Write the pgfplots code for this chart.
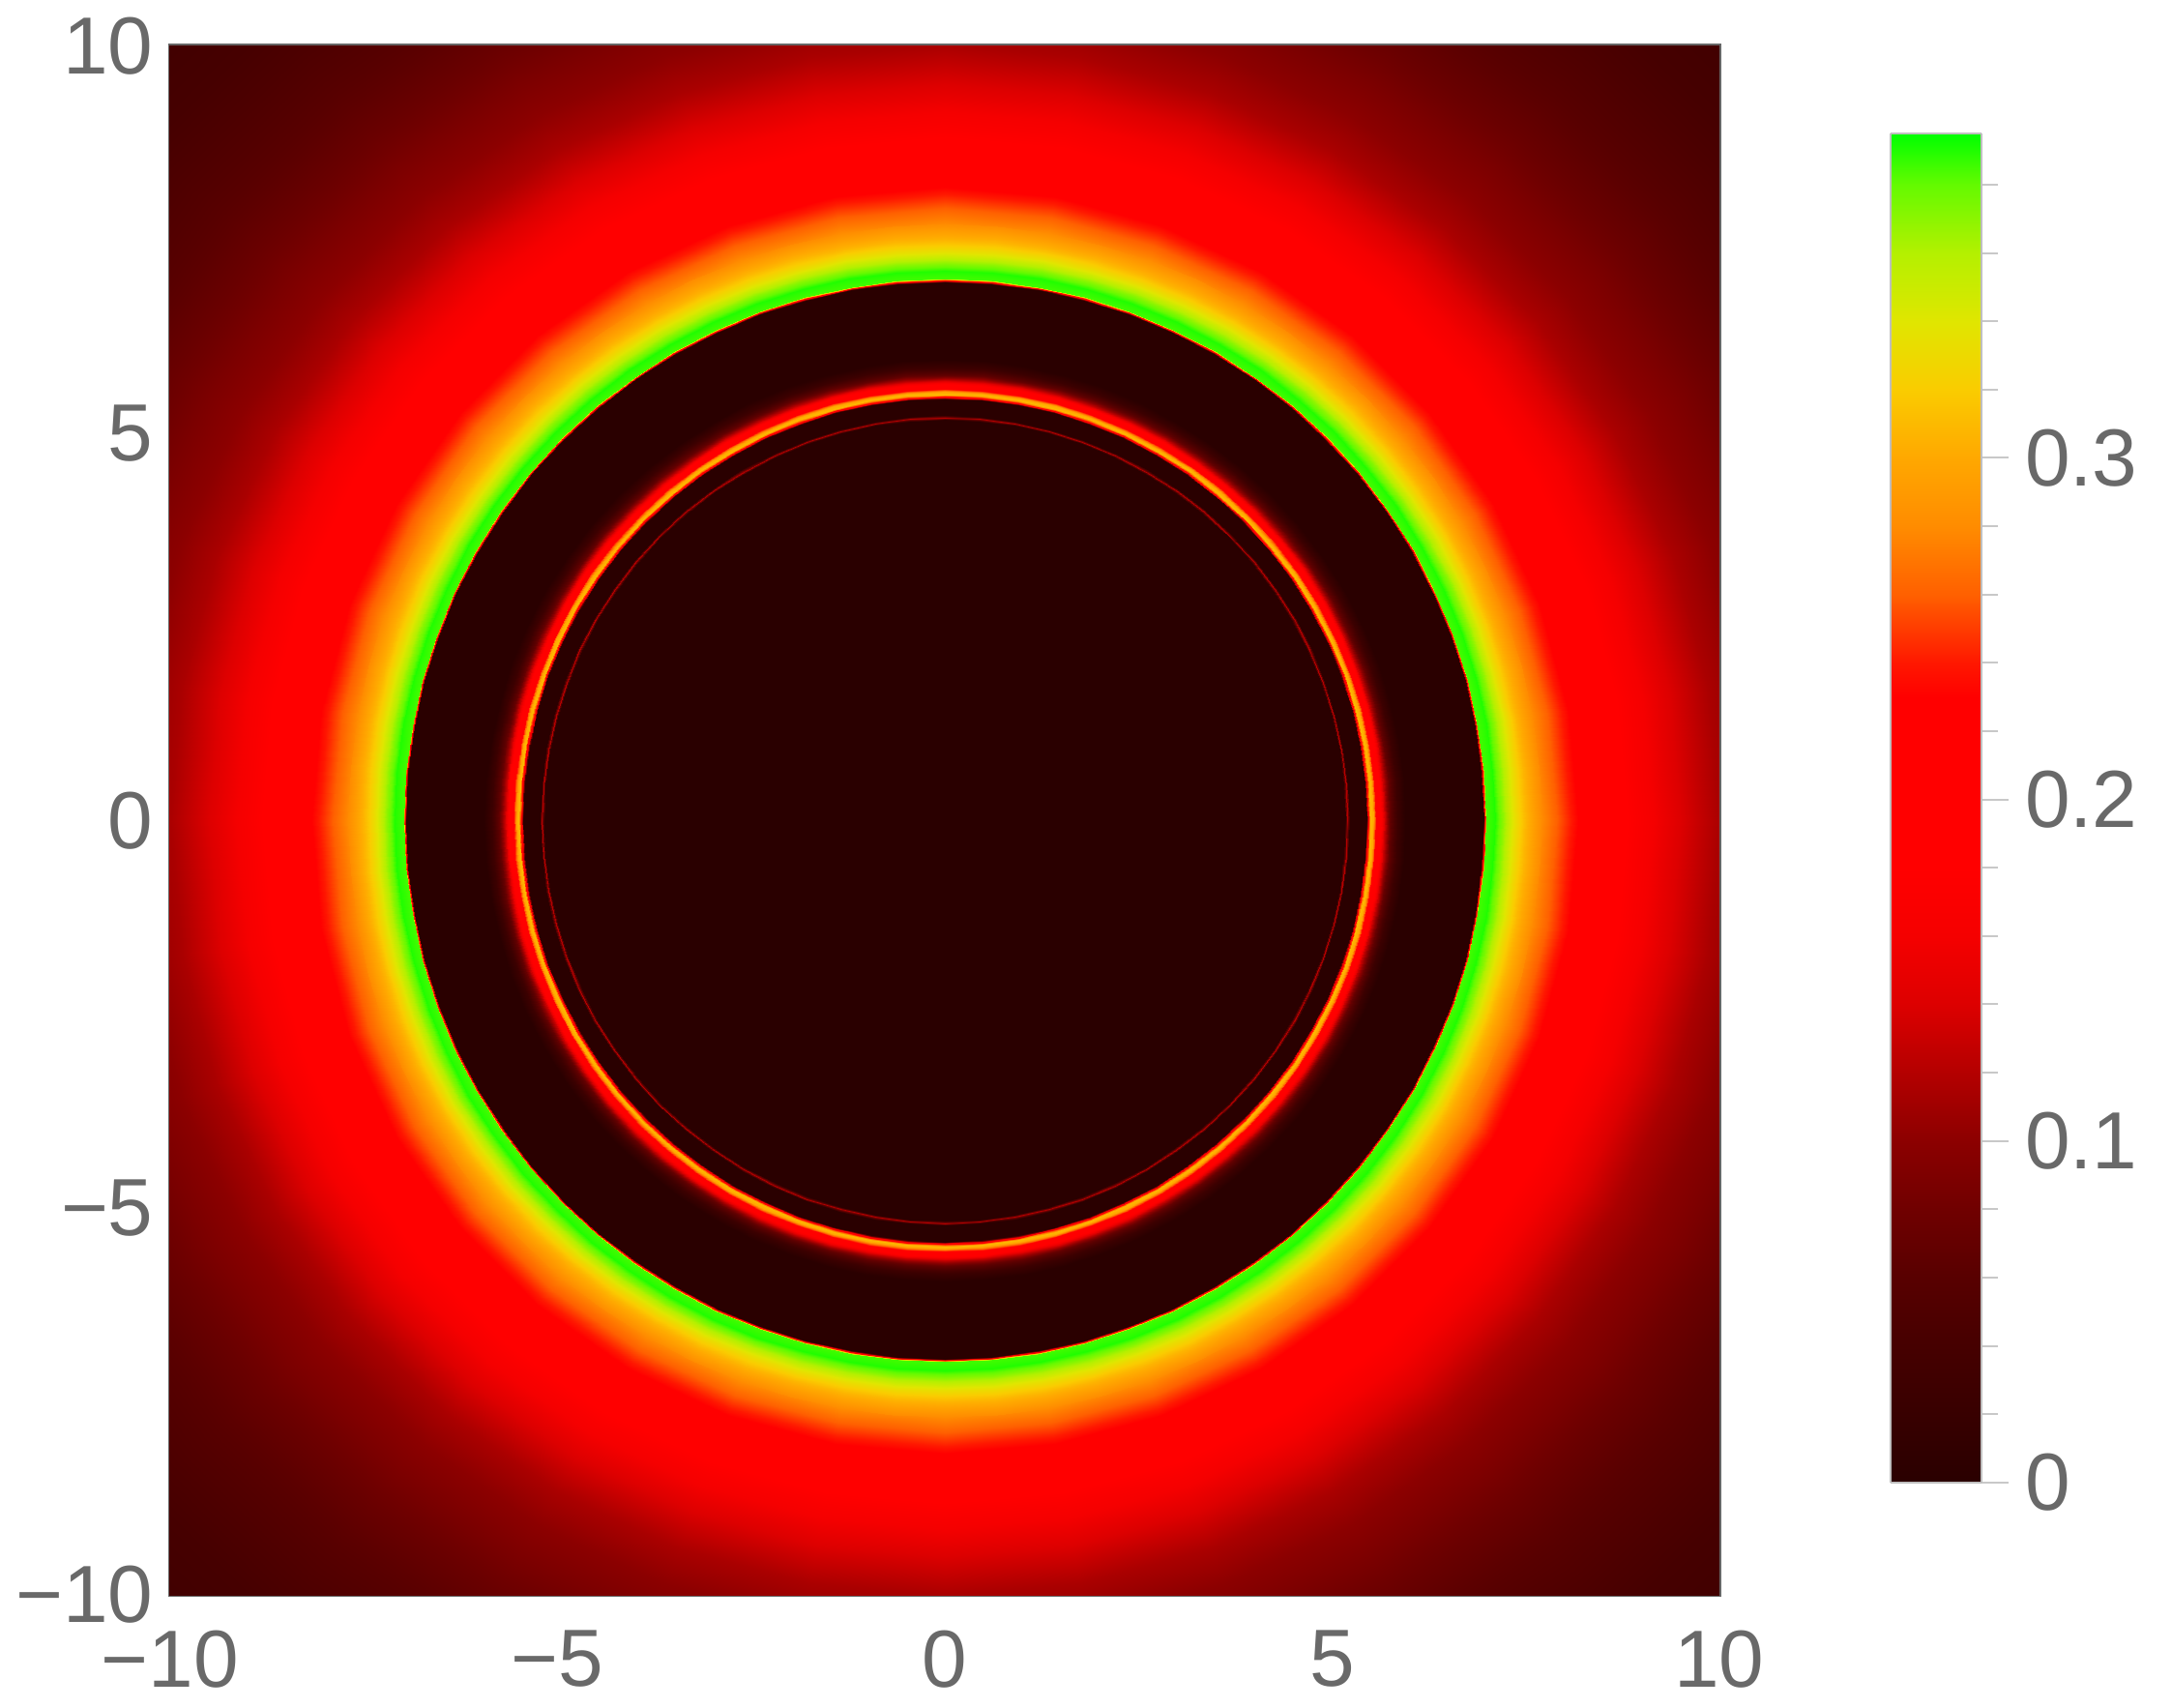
\documentclass[border=0pt]{standalone}
\usepackage{fontspec}
\setmainfont{Liberation Sans}
\usepackage{pgfplots}
\pgfplotsset{compat=1.18}
\definecolor{framegray}{RGB}{102,102,102}
\definecolor{labelgray}{RGB}{105,105,105}
\definecolor{cbtick}{RGB}{200,200,200}
\pgfplotsset{colormap={bh}{rgb255(0pt)=(42,0,0) rgb255(20pt)=(56,0,0) rgb255(40pt)=(70,0,0)
  rgb255(60pt)=(88,0,0) rgb255(80pt)=(112,0,0) rgb255(100pt)=(140,0,0) rgb255(120pt)=(180,0,0)
  rgb255(140pt)=(221,0,0) rgb255(160pt)=(245,0,0) rgb255(180pt)=(255,0,0) rgb255(230pt)=(255,0,0)
  rgb255(240pt)=(255,24,0) rgb255(260pt)=(255,96,0) rgb255(280pt)=(255,140,0) rgb255(300pt)=(255,168,0)
  rgb255(320pt)=(250,204,0) rgb255(340pt)=(224,230,0) rgb255(360pt)=(180,240,0) rgb255(380pt)=(100,250,0)
  rgb255(395pt)=(0,255,0)}}

\begin{document}
\begin{tikzpicture}
\begin{axis}[
  name=ax,
  scale only axis, width=325pt, height=325pt,
  xmin=-10, xmax=10, ymin=-10, ymax=10,
  xtick={-10,-5,0,5,10}, ytick={-10,-5,0,5,10},
  xticklabels={−10,−5,0,5,10}, yticklabels={−10,−5,0,5,10},
  axis line style={draw=framegray, line width=0.8pt},
  tick align=inside, major tick length=2pt,
  tick style={draw=framegray, line width=0.5pt},
  tick label style={font=\fontsize{17}{20}\selectfont, text=labelgray},
  xticklabel style={yshift=-4pt},
  colormap name=bh, point meta min=0, point meta max=0.395,
  colorbar, colorbar sampled={surf, mark=none, shader=interp},
  colorbar style={
    width=19pt, height=283pt, samples=80,
    at={(parent axis.east)}, anchor=west, xshift=27.4pt, yshift=2.6pt,
    ytick={0,0.1,0.2,0.3}, yticklabels={0,0.1,0.2,0.3},
    minor ytick={0.02,0.04,0.06,0.08,0.12,0.14,0.16,0.18,0.22,0.24,0.26,0.28,0.32,0.34,0.36,0.38},
    ytick pos=right, yticklabel pos=right, tick align=outside,
    major tick length=5.7pt, minor tick length=3.6pt,
    tick style={draw=cbtick, line width=0.4pt},
    axis line style={draw=gray!50, line width=0.4pt},
    yticklabel style={font=\fontsize{17}{20}\selectfont, text=labelgray},
  },
]
% outer halo, 10 degree steps
\addplot[surf, shader=interp, data cs=polar, mesh/cols=37, point meta=explicit]
  table[row sep=\\, x=ang, y=rad, meta=val]{
ang rad val\\
0 7.5 .307\\10 7.5 .307\\20 7.5 .307\\30 7.5 .307\\40 7.5 .307\\50 7.5 .307\\60 7.5 .307\\70 7.5 .307\\80 7.5 .307\\90 7.5 .307\\100 7.5 .307\\110 7.5 .307\\120 7.5 .307\\130 7.5 .307\\140 7.5 .307\\150 7.5 .307\\160 7.5 .307\\170 7.5 .307\\180 7.5 .307\\190 7.5 .307\\200 7.5 .307\\210 7.5 .307\\220 7.5 .307\\230 7.5 .307\\240 7.5 .307\\250 7.5 .307\\260 7.5 .307\\270 7.5 .307\\280 7.5 .307\\290 7.5 .307\\300 7.5 .307\\310 7.5 .307\\320 7.5 .307\\330 7.5 .307\\340 7.5 .307\\350 7.5 .307\\360 7.5 .307\\
0 7.7 .28\\10 7.7 .28\\20 7.7 .28\\30 7.7 .28\\40 7.7 .28\\50 7.7 .28\\60 7.7 .28\\70 7.7 .28\\80 7.7 .28\\90 7.7 .28\\100 7.7 .28\\110 7.7 .28\\120 7.7 .28\\130 7.7 .28\\140 7.7 .28\\150 7.7 .28\\160 7.7 .28\\170 7.7 .28\\180 7.7 .28\\190 7.7 .28\\200 7.7 .28\\210 7.7 .28\\220 7.7 .28\\230 7.7 .28\\240 7.7 .28\\250 7.7 .28\\260 7.7 .28\\270 7.7 .28\\280 7.7 .28\\290 7.7 .28\\300 7.7 .28\\310 7.7 .28\\320 7.7 .28\\330 7.7 .28\\340 7.7 .28\\350 7.7 .28\\360 7.7 .28\\
0 7.9 .26\\10 7.9 .26\\20 7.9 .26\\30 7.9 .26\\40 7.9 .26\\50 7.9 .26\\60 7.9 .26\\70 7.9 .26\\80 7.9 .26\\90 7.9 .26\\100 7.9 .26\\110 7.9 .26\\120 7.9 .26\\130 7.9 .26\\140 7.9 .26\\150 7.9 .26\\160 7.9 .26\\170 7.9 .26\\180 7.9 .26\\190 7.9 .26\\200 7.9 .26\\210 7.9 .26\\220 7.9 .26\\230 7.9 .26\\240 7.9 .26\\250 7.9 .26\\260 7.9 .26\\270 7.9 .26\\280 7.9 .26\\290 7.9 .26\\300 7.9 .26\\310 7.9 .26\\320 7.9 .26\\330 7.9 .26\\340 7.9 .26\\350 7.9 .26\\360 7.9 .26\\
0 8.1 .238\\10 8.1 .238\\20 8.1 .238\\30 8.1 .238\\40 8.1 .238\\50 8.1 .238\\60 8.1 .238\\70 8.1 .238\\80 8.1 .238\\90 8.1 .238\\100 8.1 .238\\110 8.1 .238\\120 8.1 .238\\130 8.1 .238\\140 8.1 .238\\150 8.1 .238\\160 8.1 .238\\170 8.1 .238\\180 8.1 .238\\190 8.1 .238\\200 8.1 .238\\210 8.1 .238\\220 8.1 .238\\230 8.1 .238\\240 8.1 .238\\250 8.1 .238\\260 8.1 .238\\270 8.1 .238\\280 8.1 .238\\290 8.1 .238\\300 8.1 .238\\310 8.1 .238\\320 8.1 .238\\330 8.1 .238\\340 8.1 .238\\350 8.1 .238\\360 8.1 .238\\
0 8.4 .205\\10 8.4 .205\\20 8.4 .205\\30 8.4 .205\\40 8.4 .205\\50 8.4 .205\\60 8.4 .205\\70 8.4 .205\\80 8.4 .205\\90 8.4 .205\\100 8.4 .205\\110 8.4 .205\\120 8.4 .205\\130 8.4 .205\\140 8.4 .205\\150 8.4 .205\\160 8.4 .205\\170 8.4 .205\\180 8.4 .205\\190 8.4 .205\\200 8.4 .205\\210 8.4 .205\\220 8.4 .205\\230 8.4 .205\\240 8.4 .205\\250 8.4 .205\\260 8.4 .205\\270 8.4 .205\\280 8.4 .205\\290 8.4 .205\\300 8.4 .205\\310 8.4 .205\\320 8.4 .205\\330 8.4 .205\\340 8.4 .205\\350 8.4 .205\\360 8.4 .205\\
0 8.7 .187\\10 8.7 .187\\20 8.7 .187\\30 8.7 .187\\40 8.7 .187\\50 8.7 .187\\60 8.7 .187\\70 8.7 .187\\80 8.7 .187\\90 8.7 .187\\100 8.7 .187\\110 8.7 .187\\120 8.7 .187\\130 8.7 .187\\140 8.7 .187\\150 8.7 .187\\160 8.7 .187\\170 8.7 .187\\180 8.7 .187\\190 8.7 .187\\200 8.7 .187\\210 8.7 .187\\220 8.7 .187\\230 8.7 .187\\240 8.7 .187\\250 8.7 .187\\260 8.7 .187\\270 8.7 .187\\280 8.7 .187\\290 8.7 .187\\300 8.7 .187\\310 8.7 .187\\320 8.7 .187\\330 8.7 .187\\340 8.7 .187\\350 8.7 .187\\360 8.7 .187\\
0 9 .168\\10 9 .168\\20 9 .168\\30 9 .168\\40 9 .168\\50 9 .168\\60 9 .168\\70 9 .168\\80 9 .168\\90 9 .168\\100 9 .168\\110 9 .168\\120 9 .168\\130 9 .168\\140 9 .168\\150 9 .168\\160 9 .168\\170 9 .168\\180 9 .168\\190 9 .168\\200 9 .168\\210 9 .168\\220 9 .168\\230 9 .168\\240 9 .168\\250 9 .168\\260 9 .168\\270 9 .168\\280 9 .168\\290 9 .168\\300 9 .168\\310 9 .168\\320 9 .168\\330 9 .168\\340 9 .168\\350 9 .168\\360 9 .168\\
0 9.5 .14\\10 9.5 .14\\20 9.5 .14\\30 9.5 .14\\40 9.5 .14\\50 9.5 .14\\60 9.5 .14\\70 9.5 .14\\80 9.5 .14\\90 9.5 .14\\100 9.5 .14\\110 9.5 .14\\120 9.5 .14\\130 9.5 .14\\140 9.5 .14\\150 9.5 .14\\160 9.5 .14\\170 9.5 .14\\180 9.5 .14\\190 9.5 .14\\200 9.5 .14\\210 9.5 .14\\220 9.5 .14\\230 9.5 .14\\240 9.5 .14\\250 9.5 .14\\260 9.5 .14\\270 9.5 .14\\280 9.5 .14\\290 9.5 .14\\300 9.5 .14\\310 9.5 .14\\320 9.5 .14\\330 9.5 .14\\340 9.5 .14\\350 9.5 .14\\360 9.5 .14\\
0 10 .115\\10 10 .115\\20 10 .115\\30 10 .115\\40 10 .115\\50 10 .115\\60 10 .115\\70 10 .115\\80 10 .115\\90 10 .115\\100 10 .115\\110 10 .115\\120 10 .115\\130 10 .115\\140 10 .115\\150 10 .115\\160 10 .115\\170 10 .115\\180 10 .115\\190 10 .115\\200 10 .115\\210 10 .115\\220 10 .115\\230 10 .115\\240 10 .115\\250 10 .115\\260 10 .115\\270 10 .115\\280 10 .115\\290 10 .115\\300 10 .115\\310 10 .115\\320 10 .115\\330 10 .115\\340 10 .115\\350 10 .115\\360 10 .115\\
0 10.5 .1\\10 10.5 .1\\20 10.5 .1\\30 10.5 .1\\40 10.5 .1\\50 10.5 .1\\60 10.5 .1\\70 10.5 .1\\80 10.5 .1\\90 10.5 .1\\100 10.5 .1\\110 10.5 .1\\120 10.5 .1\\130 10.5 .1\\140 10.5 .1\\150 10.5 .1\\160 10.5 .1\\170 10.5 .1\\180 10.5 .1\\190 10.5 .1\\200 10.5 .1\\210 10.5 .1\\220 10.5 .1\\230 10.5 .1\\240 10.5 .1\\250 10.5 .1\\260 10.5 .1\\270 10.5 .1\\280 10.5 .1\\290 10.5 .1\\300 10.5 .1\\310 10.5 .1\\320 10.5 .1\\330 10.5 .1\\340 10.5 .1\\350 10.5 .1\\360 10.5 .1\\
0 11 .088\\10 11 .088\\20 11 .088\\30 11 .088\\40 11 .088\\50 11 .088\\60 11 .088\\70 11 .088\\80 11 .088\\90 11 .088\\100 11 .088\\110 11 .088\\120 11 .088\\130 11 .088\\140 11 .088\\150 11 .088\\160 11 .088\\170 11 .088\\180 11 .088\\190 11 .088\\200 11 .088\\210 11 .088\\220 11 .088\\230 11 .088\\240 11 .088\\250 11 .088\\260 11 .088\\270 11 .088\\280 11 .088\\290 11 .088\\300 11 .088\\310 11 .088\\320 11 .088\\330 11 .088\\340 11 .088\\350 11 .088\\360 11 .088\\
0 11.5 .075\\10 11.5 .075\\20 11.5 .075\\30 11.5 .075\\40 11.5 .075\\50 11.5 .075\\60 11.5 .075\\70 11.5 .075\\80 11.5 .075\\90 11.5 .075\\100 11.5 .075\\110 11.5 .075\\120 11.5 .075\\130 11.5 .075\\140 11.5 .075\\150 11.5 .075\\160 11.5 .075\\170 11.5 .075\\180 11.5 .075\\190 11.5 .075\\200 11.5 .075\\210 11.5 .075\\220 11.5 .075\\230 11.5 .075\\240 11.5 .075\\250 11.5 .075\\260 11.5 .075\\270 11.5 .075\\280 11.5 .075\\290 11.5 .075\\300 11.5 .075\\310 11.5 .075\\320 11.5 .075\\330 11.5 .075\\340 11.5 .075\\350 11.5 .075\\360 11.5 .075\\
0 12 .064\\10 12 .064\\20 12 .064\\30 12 .064\\40 12 .064\\50 12 .064\\60 12 .064\\70 12 .064\\80 12 .064\\90 12 .064\\100 12 .064\\110 12 .064\\120 12 .064\\130 12 .064\\140 12 .064\\150 12 .064\\160 12 .064\\170 12 .064\\180 12 .064\\190 12 .064\\200 12 .064\\210 12 .064\\220 12 .064\\230 12 .064\\240 12 .064\\250 12 .064\\260 12 .064\\270 12 .064\\280 12 .064\\290 12 .064\\300 12 .064\\310 12 .064\\320 12 .064\\330 12 .064\\340 12 .064\\350 12 .064\\360 12 .064\\
0 12.5 .055\\10 12.5 .055\\20 12.5 .055\\30 12.5 .055\\40 12.5 .055\\50 12.5 .055\\60 12.5 .055\\70 12.5 .055\\80 12.5 .055\\90 12.5 .055\\100 12.5 .055\\110 12.5 .055\\120 12.5 .055\\130 12.5 .055\\140 12.5 .055\\150 12.5 .055\\160 12.5 .055\\170 12.5 .055\\180 12.5 .055\\190 12.5 .055\\200 12.5 .055\\210 12.5 .055\\220 12.5 .055\\230 12.5 .055\\240 12.5 .055\\250 12.5 .055\\260 12.5 .055\\270 12.5 .055\\280 12.5 .055\\290 12.5 .055\\300 12.5 .055\\310 12.5 .055\\320 12.5 .055\\330 12.5 .055\\340 12.5 .055\\350 12.5 .055\\360 12.5 .055\\
0 13 .047\\10 13 .047\\20 13 .047\\30 13 .047\\40 13 .047\\50 13 .047\\60 13 .047\\70 13 .047\\80 13 .047\\90 13 .047\\100 13 .047\\110 13 .047\\120 13 .047\\130 13 .047\\140 13 .047\\150 13 .047\\160 13 .047\\170 13 .047\\180 13 .047\\190 13 .047\\200 13 .047\\210 13 .047\\220 13 .047\\230 13 .047\\240 13 .047\\250 13 .047\\260 13 .047\\270 13 .047\\280 13 .047\\290 13 .047\\300 13 .047\\310 13 .047\\320 13 .047\\330 13 .047\\340 13 .047\\350 13 .047\\360 13 .047\\
0 13.5 .04\\10 13.5 .04\\20 13.5 .04\\30 13.5 .04\\40 13.5 .04\\50 13.5 .04\\60 13.5 .04\\70 13.5 .04\\80 13.5 .04\\90 13.5 .04\\100 13.5 .04\\110 13.5 .04\\120 13.5 .04\\130 13.5 .04\\140 13.5 .04\\150 13.5 .04\\160 13.5 .04\\170 13.5 .04\\180 13.5 .04\\190 13.5 .04\\200 13.5 .04\\210 13.5 .04\\220 13.5 .04\\230 13.5 .04\\240 13.5 .04\\250 13.5 .04\\260 13.5 .04\\270 13.5 .04\\280 13.5 .04\\290 13.5 .04\\300 13.5 .04\\310 13.5 .04\\320 13.5 .04\\330 13.5 .04\\340 13.5 .04\\350 13.5 .04\\360 13.5 .04\\
0 14.3 .033\\10 14.3 .033\\20 14.3 .033\\30 14.3 .033\\40 14.3 .033\\50 14.3 .033\\60 14.3 .033\\70 14.3 .033\\80 14.3 .033\\90 14.3 .033\\100 14.3 .033\\110 14.3 .033\\120 14.3 .033\\130 14.3 .033\\140 14.3 .033\\150 14.3 .033\\160 14.3 .033\\170 14.3 .033\\180 14.3 .033\\190 14.3 .033\\200 14.3 .033\\210 14.3 .033\\220 14.3 .033\\230 14.3 .033\\240 14.3 .033\\250 14.3 .033\\260 14.3 .033\\270 14.3 .033\\280 14.3 .033\\290 14.3 .033\\300 14.3 .033\\310 14.3 .033\\320 14.3 .033\\330 14.3 .033\\340 14.3 .033\\350 14.3 .033\\360 14.3 .033\\
};
% shadow, photon rings and sharp edge, 5 degree steps
\addplot[surf, shader=interp, data cs=polar, mesh/cols=73, point meta=explicit]
  table[row sep=\\, x=ang, y=rad, meta=val]{
ang rad val\\
0 0 0\\5 0 0\\10 0 0\\15 0 0\\20 0 0\\25 0 0\\30 0 0\\35 0 0\\40 0 0\\45 0 0\\50 0 0\\55 0 0\\60 0 0\\65 0 0\\70 0 0\\75 0 0\\80 0 0\\85 0 0\\90 0 0\\95 0 0\\100 0 0\\105 0 0\\110 0 0\\115 0 0\\120 0 0\\125 0 0\\130 0 0\\135 0 0\\140 0 0\\145 0 0\\150 0 0\\155 0 0\\160 0 0\\165 0 0\\170 0 0\\175 0 0\\180 0 0\\185 0 0\\190 0 0\\195 0 0\\200 0 0\\205 0 0\\210 0 0\\215 0 0\\220 0 0\\225 0 0\\230 0 0\\235 0 0\\240 0 0\\245 0 0\\250 0 0\\255 0 0\\260 0 0\\265 0 0\\270 0 0\\275 0 0\\280 0 0\\285 0 0\\290 0 0\\295 0 0\\300 0 0\\305 0 0\\310 0 0\\315 0 0\\320 0 0\\325 0 0\\330 0 0\\335 0 0\\340 0 0\\345 0 0\\350 0 0\\355 0 0\\360 0 0\\
0 5.17 0\\5 5.17 0\\10 5.17 0\\15 5.17 0\\20 5.17 0\\25 5.17 0\\30 5.17 0\\35 5.17 0\\40 5.17 0\\45 5.17 0\\50 5.17 0\\55 5.17 0\\60 5.17 0\\65 5.17 0\\70 5.17 0\\75 5.17 0\\80 5.17 0\\85 5.17 0\\90 5.17 0\\95 5.17 0\\100 5.17 0\\105 5.17 0\\110 5.17 0\\115 5.17 0\\120 5.17 0\\125 5.17 0\\130 5.17 0\\135 5.17 0\\140 5.17 0\\145 5.17 0\\150 5.17 0\\155 5.17 0\\160 5.17 0\\165 5.17 0\\170 5.17 0\\175 5.17 0\\180 5.17 0\\185 5.17 0\\190 5.17 0\\195 5.17 0\\200 5.17 0\\205 5.17 0\\210 5.17 0\\215 5.17 0\\220 5.17 0\\225 5.17 0\\230 5.17 0\\235 5.17 0\\240 5.17 0\\245 5.17 0\\250 5.17 0\\255 5.17 0\\260 5.17 0\\265 5.17 0\\270 5.17 0\\275 5.17 0\\280 5.17 0\\285 5.17 0\\290 5.17 0\\295 5.17 0\\300 5.17 0\\305 5.17 0\\310 5.17 0\\315 5.17 0\\320 5.17 0\\325 5.17 0\\330 5.17 0\\335 5.17 0\\340 5.17 0\\345 5.17 0\\350 5.17 0\\355 5.17 0\\360 5.17 0\\
0 5.2 .12\\5 5.2 .12\\10 5.2 .12\\15 5.2 .12\\20 5.2 .12\\25 5.2 .12\\30 5.2 .12\\35 5.2 .12\\40 5.2 .12\\45 5.2 .12\\50 5.2 .12\\55 5.2 .12\\60 5.2 .12\\65 5.2 .12\\70 5.2 .12\\75 5.2 .12\\80 5.2 .12\\85 5.2 .12\\90 5.2 .12\\95 5.2 .12\\100 5.2 .12\\105 5.2 .12\\110 5.2 .12\\115 5.2 .12\\120 5.2 .12\\125 5.2 .12\\130 5.2 .12\\135 5.2 .12\\140 5.2 .12\\145 5.2 .12\\150 5.2 .12\\155 5.2 .12\\160 5.2 .12\\165 5.2 .12\\170 5.2 .12\\175 5.2 .12\\180 5.2 .12\\185 5.2 .12\\190 5.2 .12\\195 5.2 .12\\200 5.2 .12\\205 5.2 .12\\210 5.2 .12\\215 5.2 .12\\220 5.2 .12\\225 5.2 .12\\230 5.2 .12\\235 5.2 .12\\240 5.2 .12\\245 5.2 .12\\250 5.2 .12\\255 5.2 .12\\260 5.2 .12\\265 5.2 .12\\270 5.2 .12\\275 5.2 .12\\280 5.2 .12\\285 5.2 .12\\290 5.2 .12\\295 5.2 .12\\300 5.2 .12\\305 5.2 .12\\310 5.2 .12\\315 5.2 .12\\320 5.2 .12\\325 5.2 .12\\330 5.2 .12\\335 5.2 .12\\340 5.2 .12\\345 5.2 .12\\350 5.2 .12\\355 5.2 .12\\360 5.2 .12\\
0 5.23 0\\5 5.23 0\\10 5.23 0\\15 5.23 0\\20 5.23 0\\25 5.23 0\\30 5.23 0\\35 5.23 0\\40 5.23 0\\45 5.23 0\\50 5.23 0\\55 5.23 0\\60 5.23 0\\65 5.23 0\\70 5.23 0\\75 5.23 0\\80 5.23 0\\85 5.23 0\\90 5.23 0\\95 5.23 0\\100 5.23 0\\105 5.23 0\\110 5.23 0\\115 5.23 0\\120 5.23 0\\125 5.23 0\\130 5.23 0\\135 5.23 0\\140 5.23 0\\145 5.23 0\\150 5.23 0\\155 5.23 0\\160 5.23 0\\165 5.23 0\\170 5.23 0\\175 5.23 0\\180 5.23 0\\185 5.23 0\\190 5.23 0\\195 5.23 0\\200 5.23 0\\205 5.23 0\\210 5.23 0\\215 5.23 0\\220 5.23 0\\225 5.23 0\\230 5.23 0\\235 5.23 0\\240 5.23 0\\245 5.23 0\\250 5.23 0\\255 5.23 0\\260 5.23 0\\265 5.23 0\\270 5.23 0\\275 5.23 0\\280 5.23 0\\285 5.23 0\\290 5.23 0\\295 5.23 0\\300 5.23 0\\305 5.23 0\\310 5.23 0\\315 5.23 0\\320 5.23 0\\325 5.23 0\\330 5.23 0\\335 5.23 0\\340 5.23 0\\345 5.23 0\\350 5.23 0\\355 5.23 0\\360 5.23 0\\
0 5.44 0\\5 5.44 0\\10 5.44 0\\15 5.44 0\\20 5.44 0\\25 5.44 0\\30 5.44 0\\35 5.44 0\\40 5.44 0\\45 5.44 0\\50 5.44 0\\55 5.44 0\\60 5.44 0\\65 5.44 0\\70 5.44 0\\75 5.44 0\\80 5.44 0\\85 5.44 0\\90 5.44 0\\95 5.44 0\\100 5.44 0\\105 5.44 0\\110 5.44 0\\115 5.44 0\\120 5.44 0\\125 5.44 0\\130 5.44 0\\135 5.44 0\\140 5.44 0\\145 5.44 0\\150 5.44 0\\155 5.44 0\\160 5.44 0\\165 5.44 0\\170 5.44 0\\175 5.44 0\\180 5.44 0\\185 5.44 0\\190 5.44 0\\195 5.44 0\\200 5.44 0\\205 5.44 0\\210 5.44 0\\215 5.44 0\\220 5.44 0\\225 5.44 0\\230 5.44 0\\235 5.44 0\\240 5.44 0\\245 5.44 0\\250 5.44 0\\255 5.44 0\\260 5.44 0\\265 5.44 0\\270 5.44 0\\275 5.44 0\\280 5.44 0\\285 5.44 0\\290 5.44 0\\295 5.44 0\\300 5.44 0\\305 5.44 0\\310 5.44 0\\315 5.44 0\\320 5.44 0\\325 5.44 0\\330 5.44 0\\335 5.44 0\\340 5.44 0\\345 5.44 0\\350 5.44 0\\355 5.44 0\\360 5.44 0\\
0 5.47 .22\\5 5.47 .22\\10 5.47 .22\\15 5.47 .22\\20 5.47 .22\\25 5.47 .22\\30 5.47 .22\\35 5.47 .22\\40 5.47 .22\\45 5.47 .22\\50 5.47 .22\\55 5.47 .22\\60 5.47 .22\\65 5.47 .22\\70 5.47 .22\\75 5.47 .22\\80 5.47 .22\\85 5.47 .22\\90 5.47 .22\\95 5.47 .22\\100 5.47 .22\\105 5.47 .22\\110 5.47 .22\\115 5.47 .22\\120 5.47 .22\\125 5.47 .22\\130 5.47 .22\\135 5.47 .22\\140 5.47 .22\\145 5.47 .22\\150 5.47 .22\\155 5.47 .22\\160 5.47 .22\\165 5.47 .22\\170 5.47 .22\\175 5.47 .22\\180 5.47 .22\\185 5.47 .22\\190 5.47 .22\\195 5.47 .22\\200 5.47 .22\\205 5.47 .22\\210 5.47 .22\\215 5.47 .22\\220 5.47 .22\\225 5.47 .22\\230 5.47 .22\\235 5.47 .22\\240 5.47 .22\\245 5.47 .22\\250 5.47 .22\\255 5.47 .22\\260 5.47 .22\\265 5.47 .22\\270 5.47 .22\\275 5.47 .22\\280 5.47 .22\\285 5.47 .22\\290 5.47 .22\\295 5.47 .22\\300 5.47 .22\\305 5.47 .22\\310 5.47 .22\\315 5.47 .22\\320 5.47 .22\\325 5.47 .22\\330 5.47 .22\\335 5.47 .22\\340 5.47 .22\\345 5.47 .22\\350 5.47 .22\\355 5.47 .22\\360 5.47 .22\\
0 5.5 .31\\5 5.5 .31\\10 5.5 .31\\15 5.5 .31\\20 5.5 .31\\25 5.5 .31\\30 5.5 .31\\35 5.5 .31\\40 5.5 .31\\45 5.5 .31\\50 5.5 .31\\55 5.5 .31\\60 5.5 .31\\65 5.5 .31\\70 5.5 .31\\75 5.5 .31\\80 5.5 .31\\85 5.5 .31\\90 5.5 .31\\95 5.5 .31\\100 5.5 .31\\105 5.5 .31\\110 5.5 .31\\115 5.5 .31\\120 5.5 .31\\125 5.5 .31\\130 5.5 .31\\135 5.5 .31\\140 5.5 .31\\145 5.5 .31\\150 5.5 .31\\155 5.5 .31\\160 5.5 .31\\165 5.5 .31\\170 5.5 .31\\175 5.5 .31\\180 5.5 .31\\185 5.5 .31\\190 5.5 .31\\195 5.5 .31\\200 5.5 .31\\205 5.5 .31\\210 5.5 .31\\215 5.5 .31\\220 5.5 .31\\225 5.5 .31\\230 5.5 .31\\235 5.5 .31\\240 5.5 .31\\245 5.5 .31\\250 5.5 .31\\255 5.5 .31\\260 5.5 .31\\265 5.5 .31\\270 5.5 .31\\275 5.5 .31\\280 5.5 .31\\285 5.5 .31\\290 5.5 .31\\295 5.5 .31\\300 5.5 .31\\305 5.5 .31\\310 5.5 .31\\315 5.5 .31\\320 5.5 .31\\325 5.5 .31\\330 5.5 .31\\335 5.5 .31\\340 5.5 .31\\345 5.5 .31\\350 5.5 .31\\355 5.5 .31\\360 5.5 .31\\
0 5.53 .3\\5 5.53 .3\\10 5.53 .3\\15 5.53 .3\\20 5.53 .3\\25 5.53 .3\\30 5.53 .3\\35 5.53 .3\\40 5.53 .3\\45 5.53 .3\\50 5.53 .3\\55 5.53 .3\\60 5.53 .3\\65 5.53 .3\\70 5.53 .3\\75 5.53 .3\\80 5.53 .3\\85 5.53 .3\\90 5.53 .3\\95 5.53 .3\\100 5.53 .3\\105 5.53 .3\\110 5.53 .3\\115 5.53 .3\\120 5.53 .3\\125 5.53 .3\\130 5.53 .3\\135 5.53 .3\\140 5.53 .3\\145 5.53 .3\\150 5.53 .3\\155 5.53 .3\\160 5.53 .3\\165 5.53 .3\\170 5.53 .3\\175 5.53 .3\\180 5.53 .3\\185 5.53 .3\\190 5.53 .3\\195 5.53 .3\\200 5.53 .3\\205 5.53 .3\\210 5.53 .3\\215 5.53 .3\\220 5.53 .3\\225 5.53 .3\\230 5.53 .3\\235 5.53 .3\\240 5.53 .3\\245 5.53 .3\\250 5.53 .3\\255 5.53 .3\\260 5.53 .3\\265 5.53 .3\\270 5.53 .3\\275 5.53 .3\\280 5.53 .3\\285 5.53 .3\\290 5.53 .3\\295 5.53 .3\\300 5.53 .3\\305 5.53 .3\\310 5.53 .3\\315 5.53 .3\\320 5.53 .3\\325 5.53 .3\\330 5.53 .3\\335 5.53 .3\\340 5.53 .3\\345 5.53 .3\\350 5.53 .3\\355 5.53 .3\\360 5.53 .3\\
0 5.57 .23\\5 5.57 .23\\10 5.57 .23\\15 5.57 .23\\20 5.57 .23\\25 5.57 .23\\30 5.57 .23\\35 5.57 .23\\40 5.57 .23\\45 5.57 .23\\50 5.57 .23\\55 5.57 .23\\60 5.57 .23\\65 5.57 .23\\70 5.57 .23\\75 5.57 .23\\80 5.57 .23\\85 5.57 .23\\90 5.57 .23\\95 5.57 .23\\100 5.57 .23\\105 5.57 .23\\110 5.57 .23\\115 5.57 .23\\120 5.57 .23\\125 5.57 .23\\130 5.57 .23\\135 5.57 .23\\140 5.57 .23\\145 5.57 .23\\150 5.57 .23\\155 5.57 .23\\160 5.57 .23\\165 5.57 .23\\170 5.57 .23\\175 5.57 .23\\180 5.57 .23\\185 5.57 .23\\190 5.57 .23\\195 5.57 .23\\200 5.57 .23\\205 5.57 .23\\210 5.57 .23\\215 5.57 .23\\220 5.57 .23\\225 5.57 .23\\230 5.57 .23\\235 5.57 .23\\240 5.57 .23\\245 5.57 .23\\250 5.57 .23\\255 5.57 .23\\260 5.57 .23\\265 5.57 .23\\270 5.57 .23\\275 5.57 .23\\280 5.57 .23\\285 5.57 .23\\290 5.57 .23\\295 5.57 .23\\300 5.57 .23\\305 5.57 .23\\310 5.57 .23\\315 5.57 .23\\320 5.57 .23\\325 5.57 .23\\330 5.57 .23\\335 5.57 .23\\340 5.57 .23\\345 5.57 .23\\350 5.57 .23\\355 5.57 .23\\360 5.57 .23\\
0 5.62 .19\\5 5.62 .19\\10 5.62 .19\\15 5.62 .19\\20 5.62 .19\\25 5.62 .19\\30 5.62 .19\\35 5.62 .19\\40 5.62 .19\\45 5.62 .19\\50 5.62 .19\\55 5.62 .19\\60 5.62 .19\\65 5.62 .19\\70 5.62 .19\\75 5.62 .19\\80 5.62 .19\\85 5.62 .19\\90 5.62 .19\\95 5.62 .19\\100 5.62 .19\\105 5.62 .19\\110 5.62 .19\\115 5.62 .19\\120 5.62 .19\\125 5.62 .19\\130 5.62 .19\\135 5.62 .19\\140 5.62 .19\\145 5.62 .19\\150 5.62 .19\\155 5.62 .19\\160 5.62 .19\\165 5.62 .19\\170 5.62 .19\\175 5.62 .19\\180 5.62 .19\\185 5.62 .19\\190 5.62 .19\\195 5.62 .19\\200 5.62 .19\\205 5.62 .19\\210 5.62 .19\\215 5.62 .19\\220 5.62 .19\\225 5.62 .19\\230 5.62 .19\\235 5.62 .19\\240 5.62 .19\\245 5.62 .19\\250 5.62 .19\\255 5.62 .19\\260 5.62 .19\\265 5.62 .19\\270 5.62 .19\\275 5.62 .19\\280 5.62 .19\\285 5.62 .19\\290 5.62 .19\\295 5.62 .19\\300 5.62 .19\\305 5.62 .19\\310 5.62 .19\\315 5.62 .19\\320 5.62 .19\\325 5.62 .19\\330 5.62 .19\\335 5.62 .19\\340 5.62 .19\\345 5.62 .19\\350 5.62 .19\\355 5.62 .19\\360 5.62 .19\\
0 5.68 .13\\5 5.68 .13\\10 5.68 .13\\15 5.68 .13\\20 5.68 .13\\25 5.68 .13\\30 5.68 .13\\35 5.68 .13\\40 5.68 .13\\45 5.68 .13\\50 5.68 .13\\55 5.68 .13\\60 5.68 .13\\65 5.68 .13\\70 5.68 .13\\75 5.68 .13\\80 5.68 .13\\85 5.68 .13\\90 5.68 .13\\95 5.68 .13\\100 5.68 .13\\105 5.68 .13\\110 5.68 .13\\115 5.68 .13\\120 5.68 .13\\125 5.68 .13\\130 5.68 .13\\135 5.68 .13\\140 5.68 .13\\145 5.68 .13\\150 5.68 .13\\155 5.68 .13\\160 5.68 .13\\165 5.68 .13\\170 5.68 .13\\175 5.68 .13\\180 5.68 .13\\185 5.68 .13\\190 5.68 .13\\195 5.68 .13\\200 5.68 .13\\205 5.68 .13\\210 5.68 .13\\215 5.68 .13\\220 5.68 .13\\225 5.68 .13\\230 5.68 .13\\235 5.68 .13\\240 5.68 .13\\245 5.68 .13\\250 5.68 .13\\255 5.68 .13\\260 5.68 .13\\265 5.68 .13\\270 5.68 .13\\275 5.68 .13\\280 5.68 .13\\285 5.68 .13\\290 5.68 .13\\295 5.68 .13\\300 5.68 .13\\305 5.68 .13\\310 5.68 .13\\315 5.68 .13\\320 5.68 .13\\325 5.68 .13\\330 5.68 .13\\335 5.68 .13\\340 5.68 .13\\345 5.68 .13\\350 5.68 .13\\355 5.68 .13\\360 5.68 .13\\
0 5.75 .07\\5 5.75 .07\\10 5.75 .07\\15 5.75 .07\\20 5.75 .07\\25 5.75 .07\\30 5.75 .07\\35 5.75 .07\\40 5.75 .07\\45 5.75 .07\\50 5.75 .07\\55 5.75 .07\\60 5.75 .07\\65 5.75 .07\\70 5.75 .07\\75 5.75 .07\\80 5.75 .07\\85 5.75 .07\\90 5.75 .07\\95 5.75 .07\\100 5.75 .07\\105 5.75 .07\\110 5.75 .07\\115 5.75 .07\\120 5.75 .07\\125 5.75 .07\\130 5.75 .07\\135 5.75 .07\\140 5.75 .07\\145 5.75 .07\\150 5.75 .07\\155 5.75 .07\\160 5.75 .07\\165 5.75 .07\\170 5.75 .07\\175 5.75 .07\\180 5.75 .07\\185 5.75 .07\\190 5.75 .07\\195 5.75 .07\\200 5.75 .07\\205 5.75 .07\\210 5.75 .07\\215 5.75 .07\\220 5.75 .07\\225 5.75 .07\\230 5.75 .07\\235 5.75 .07\\240 5.75 .07\\245 5.75 .07\\250 5.75 .07\\255 5.75 .07\\260 5.75 .07\\265 5.75 .07\\270 5.75 .07\\275 5.75 .07\\280 5.75 .07\\285 5.75 .07\\290 5.75 .07\\295 5.75 .07\\300 5.75 .07\\305 5.75 .07\\310 5.75 .07\\315 5.75 .07\\320 5.75 .07\\325 5.75 .07\\330 5.75 .07\\335 5.75 .07\\340 5.75 .07\\345 5.75 .07\\350 5.75 .07\\355 5.75 .07\\360 5.75 .07\\
0 5.85 .025\\5 5.85 .025\\10 5.85 .025\\15 5.85 .025\\20 5.85 .025\\25 5.85 .025\\30 5.85 .025\\35 5.85 .025\\40 5.85 .025\\45 5.85 .025\\50 5.85 .025\\55 5.85 .025\\60 5.85 .025\\65 5.85 .025\\70 5.85 .025\\75 5.85 .025\\80 5.85 .025\\85 5.85 .025\\90 5.85 .025\\95 5.85 .025\\100 5.85 .025\\105 5.85 .025\\110 5.85 .025\\115 5.85 .025\\120 5.85 .025\\125 5.85 .025\\130 5.85 .025\\135 5.85 .025\\140 5.85 .025\\145 5.85 .025\\150 5.85 .025\\155 5.85 .025\\160 5.85 .025\\165 5.85 .025\\170 5.85 .025\\175 5.85 .025\\180 5.85 .025\\185 5.85 .025\\190 5.85 .025\\195 5.85 .025\\200 5.85 .025\\205 5.85 .025\\210 5.85 .025\\215 5.85 .025\\220 5.85 .025\\225 5.85 .025\\230 5.85 .025\\235 5.85 .025\\240 5.85 .025\\245 5.85 .025\\250 5.85 .025\\255 5.85 .025\\260 5.85 .025\\265 5.85 .025\\270 5.85 .025\\275 5.85 .025\\280 5.85 .025\\285 5.85 .025\\290 5.85 .025\\295 5.85 .025\\300 5.85 .025\\305 5.85 .025\\310 5.85 .025\\315 5.85 .025\\320 5.85 .025\\325 5.85 .025\\330 5.85 .025\\335 5.85 .025\\340 5.85 .025\\345 5.85 .025\\350 5.85 .025\\355 5.85 .025\\360 5.85 .025\\
0 5.95 0\\5 5.95 0\\10 5.95 0\\15 5.95 0\\20 5.95 0\\25 5.95 0\\30 5.95 0\\35 5.95 0\\40 5.95 0\\45 5.95 0\\50 5.95 0\\55 5.95 0\\60 5.95 0\\65 5.95 0\\70 5.95 0\\75 5.95 0\\80 5.95 0\\85 5.95 0\\90 5.95 0\\95 5.95 0\\100 5.95 0\\105 5.95 0\\110 5.95 0\\115 5.95 0\\120 5.95 0\\125 5.95 0\\130 5.95 0\\135 5.95 0\\140 5.95 0\\145 5.95 0\\150 5.95 0\\155 5.95 0\\160 5.95 0\\165 5.95 0\\170 5.95 0\\175 5.95 0\\180 5.95 0\\185 5.95 0\\190 5.95 0\\195 5.95 0\\200 5.95 0\\205 5.95 0\\210 5.95 0\\215 5.95 0\\220 5.95 0\\225 5.95 0\\230 5.95 0\\235 5.95 0\\240 5.95 0\\245 5.95 0\\250 5.95 0\\255 5.95 0\\260 5.95 0\\265 5.95 0\\270 5.95 0\\275 5.95 0\\280 5.95 0\\285 5.95 0\\290 5.95 0\\295 5.95 0\\300 5.95 0\\305 5.95 0\\310 5.95 0\\315 5.95 0\\320 5.95 0\\325 5.95 0\\330 5.95 0\\335 5.95 0\\340 5.95 0\\345 5.95 0\\350 5.95 0\\355 5.95 0\\360 5.95 0\\
0 6.95 0\\5 6.95 0\\10 6.95 0\\15 6.95 0\\20 6.95 0\\25 6.95 0\\30 6.95 0\\35 6.95 0\\40 6.95 0\\45 6.95 0\\50 6.95 0\\55 6.95 0\\60 6.95 0\\65 6.95 0\\70 6.95 0\\75 6.95 0\\80 6.95 0\\85 6.95 0\\90 6.95 0\\95 6.95 0\\100 6.95 0\\105 6.95 0\\110 6.95 0\\115 6.95 0\\120 6.95 0\\125 6.95 0\\130 6.95 0\\135 6.95 0\\140 6.95 0\\145 6.95 0\\150 6.95 0\\155 6.95 0\\160 6.95 0\\165 6.95 0\\170 6.95 0\\175 6.95 0\\180 6.95 0\\185 6.95 0\\190 6.95 0\\195 6.95 0\\200 6.95 0\\205 6.95 0\\210 6.95 0\\215 6.95 0\\220 6.95 0\\225 6.95 0\\230 6.95 0\\235 6.95 0\\240 6.95 0\\245 6.95 0\\250 6.95 0\\255 6.95 0\\260 6.95 0\\265 6.95 0\\270 6.95 0\\275 6.95 0\\280 6.95 0\\285 6.95 0\\290 6.95 0\\295 6.95 0\\300 6.95 0\\305 6.95 0\\310 6.95 0\\315 6.95 0\\320 6.95 0\\325 6.95 0\\330 6.95 0\\335 6.95 0\\340 6.95 0\\345 6.95 0\\350 6.95 0\\355 6.95 0\\360 6.95 0\\
0 6.99 .385\\5 6.99 .385\\10 6.99 .385\\15 6.99 .385\\20 6.99 .385\\25 6.99 .385\\30 6.99 .385\\35 6.99 .385\\40 6.99 .385\\45 6.99 .385\\50 6.99 .385\\55 6.99 .385\\60 6.99 .385\\65 6.99 .385\\70 6.99 .385\\75 6.99 .385\\80 6.99 .385\\85 6.99 .385\\90 6.99 .385\\95 6.99 .385\\100 6.99 .385\\105 6.99 .385\\110 6.99 .385\\115 6.99 .385\\120 6.99 .385\\125 6.99 .385\\130 6.99 .385\\135 6.99 .385\\140 6.99 .385\\145 6.99 .385\\150 6.99 .385\\155 6.99 .385\\160 6.99 .385\\165 6.99 .385\\170 6.99 .385\\175 6.99 .385\\180 6.99 .385\\185 6.99 .385\\190 6.99 .385\\195 6.99 .385\\200 6.99 .385\\205 6.99 .385\\210 6.99 .385\\215 6.99 .385\\220 6.99 .385\\225 6.99 .385\\230 6.99 .385\\235 6.99 .385\\240 6.99 .385\\245 6.99 .385\\250 6.99 .385\\255 6.99 .385\\260 6.99 .385\\265 6.99 .385\\270 6.99 .385\\275 6.99 .385\\280 6.99 .385\\285 6.99 .385\\290 6.99 .385\\295 6.99 .385\\300 6.99 .385\\305 6.99 .385\\310 6.99 .385\\315 6.99 .385\\320 6.99 .385\\325 6.99 .385\\330 6.99 .385\\335 6.99 .385\\340 6.99 .385\\345 6.99 .385\\350 6.99 .385\\355 6.99 .385\\360 6.99 .385\\
0 7.1 .39\\5 7.1 .39\\10 7.1 .39\\15 7.1 .39\\20 7.1 .39\\25 7.1 .39\\30 7.1 .39\\35 7.1 .39\\40 7.1 .39\\45 7.1 .39\\50 7.1 .39\\55 7.1 .39\\60 7.1 .39\\65 7.1 .39\\70 7.1 .39\\75 7.1 .39\\80 7.1 .39\\85 7.1 .39\\90 7.1 .39\\95 7.1 .39\\100 7.1 .39\\105 7.1 .39\\110 7.1 .39\\115 7.1 .39\\120 7.1 .39\\125 7.1 .39\\130 7.1 .39\\135 7.1 .39\\140 7.1 .39\\145 7.1 .39\\150 7.1 .39\\155 7.1 .39\\160 7.1 .39\\165 7.1 .39\\170 7.1 .39\\175 7.1 .39\\180 7.1 .39\\185 7.1 .39\\190 7.1 .39\\195 7.1 .39\\200 7.1 .39\\205 7.1 .39\\210 7.1 .39\\215 7.1 .39\\220 7.1 .39\\225 7.1 .39\\230 7.1 .39\\235 7.1 .39\\240 7.1 .39\\245 7.1 .39\\250 7.1 .39\\255 7.1 .39\\260 7.1 .39\\265 7.1 .39\\270 7.1 .39\\275 7.1 .39\\280 7.1 .39\\285 7.1 .39\\290 7.1 .39\\295 7.1 .39\\300 7.1 .39\\305 7.1 .39\\310 7.1 .39\\315 7.1 .39\\320 7.1 .39\\325 7.1 .39\\330 7.1 .39\\335 7.1 .39\\340 7.1 .39\\345 7.1 .39\\350 7.1 .39\\355 7.1 .39\\360 7.1 .39\\
0 7.2 .37\\5 7.2 .37\\10 7.2 .37\\15 7.2 .37\\20 7.2 .37\\25 7.2 .37\\30 7.2 .37\\35 7.2 .37\\40 7.2 .37\\45 7.2 .37\\50 7.2 .37\\55 7.2 .37\\60 7.2 .37\\65 7.2 .37\\70 7.2 .37\\75 7.2 .37\\80 7.2 .37\\85 7.2 .37\\90 7.2 .37\\95 7.2 .37\\100 7.2 .37\\105 7.2 .37\\110 7.2 .37\\115 7.2 .37\\120 7.2 .37\\125 7.2 .37\\130 7.2 .37\\135 7.2 .37\\140 7.2 .37\\145 7.2 .37\\150 7.2 .37\\155 7.2 .37\\160 7.2 .37\\165 7.2 .37\\170 7.2 .37\\175 7.2 .37\\180 7.2 .37\\185 7.2 .37\\190 7.2 .37\\195 7.2 .37\\200 7.2 .37\\205 7.2 .37\\210 7.2 .37\\215 7.2 .37\\220 7.2 .37\\225 7.2 .37\\230 7.2 .37\\235 7.2 .37\\240 7.2 .37\\245 7.2 .37\\250 7.2 .37\\255 7.2 .37\\260 7.2 .37\\265 7.2 .37\\270 7.2 .37\\275 7.2 .37\\280 7.2 .37\\285 7.2 .37\\290 7.2 .37\\295 7.2 .37\\300 7.2 .37\\305 7.2 .37\\310 7.2 .37\\315 7.2 .37\\320 7.2 .37\\325 7.2 .37\\330 7.2 .37\\335 7.2 .37\\340 7.2 .37\\345 7.2 .37\\350 7.2 .37\\355 7.2 .37\\360 7.2 .37\\
0 7.35 .335\\5 7.35 .335\\10 7.35 .335\\15 7.35 .335\\20 7.35 .335\\25 7.35 .335\\30 7.35 .335\\35 7.35 .335\\40 7.35 .335\\45 7.35 .335\\50 7.35 .335\\55 7.35 .335\\60 7.35 .335\\65 7.35 .335\\70 7.35 .335\\75 7.35 .335\\80 7.35 .335\\85 7.35 .335\\90 7.35 .335\\95 7.35 .335\\100 7.35 .335\\105 7.35 .335\\110 7.35 .335\\115 7.35 .335\\120 7.35 .335\\125 7.35 .335\\130 7.35 .335\\135 7.35 .335\\140 7.35 .335\\145 7.35 .335\\150 7.35 .335\\155 7.35 .335\\160 7.35 .335\\165 7.35 .335\\170 7.35 .335\\175 7.35 .335\\180 7.35 .335\\185 7.35 .335\\190 7.35 .335\\195 7.35 .335\\200 7.35 .335\\205 7.35 .335\\210 7.35 .335\\215 7.35 .335\\220 7.35 .335\\225 7.35 .335\\230 7.35 .335\\235 7.35 .335\\240 7.35 .335\\245 7.35 .335\\250 7.35 .335\\255 7.35 .335\\260 7.35 .335\\265 7.35 .335\\270 7.35 .335\\275 7.35 .335\\280 7.35 .335\\285 7.35 .335\\290 7.35 .335\\295 7.35 .335\\300 7.35 .335\\305 7.35 .335\\310 7.35 .335\\315 7.35 .335\\320 7.35 .335\\325 7.35 .335\\330 7.35 .335\\335 7.35 .335\\340 7.35 .335\\345 7.35 .335\\350 7.35 .335\\355 7.35 .335\\360 7.35 .335\\
0 7.5 .307\\5 7.5 .307\\10 7.5 .307\\15 7.5 .307\\20 7.5 .307\\25 7.5 .307\\30 7.5 .307\\35 7.5 .307\\40 7.5 .307\\45 7.5 .307\\50 7.5 .307\\55 7.5 .307\\60 7.5 .307\\65 7.5 .307\\70 7.5 .307\\75 7.5 .307\\80 7.5 .307\\85 7.5 .307\\90 7.5 .307\\95 7.5 .307\\100 7.5 .307\\105 7.5 .307\\110 7.5 .307\\115 7.5 .307\\120 7.5 .307\\125 7.5 .307\\130 7.5 .307\\135 7.5 .307\\140 7.5 .307\\145 7.5 .307\\150 7.5 .307\\155 7.5 .307\\160 7.5 .307\\165 7.5 .307\\170 7.5 .307\\175 7.5 .307\\180 7.5 .307\\185 7.5 .307\\190 7.5 .307\\195 7.5 .307\\200 7.5 .307\\205 7.5 .307\\210 7.5 .307\\215 7.5 .307\\220 7.5 .307\\225 7.5 .307\\230 7.5 .307\\235 7.5 .307\\240 7.5 .307\\245 7.5 .307\\250 7.5 .307\\255 7.5 .307\\260 7.5 .307\\265 7.5 .307\\270 7.5 .307\\275 7.5 .307\\280 7.5 .307\\285 7.5 .307\\290 7.5 .307\\295 7.5 .307\\300 7.5 .307\\305 7.5 .307\\310 7.5 .307\\315 7.5 .307\\320 7.5 .307\\325 7.5 .307\\330 7.5 .307\\335 7.5 .307\\340 7.5 .307\\345 7.5 .307\\350 7.5 .307\\355 7.5 .307\\360 7.5 .307\\
0 7.7 .28\\5 7.7 .28\\10 7.7 .28\\15 7.7 .28\\20 7.7 .28\\25 7.7 .28\\30 7.7 .28\\35 7.7 .28\\40 7.7 .28\\45 7.7 .28\\50 7.7 .28\\55 7.7 .28\\60 7.7 .28\\65 7.7 .28\\70 7.7 .28\\75 7.7 .28\\80 7.7 .28\\85 7.7 .28\\90 7.7 .28\\95 7.7 .28\\100 7.7 .28\\105 7.7 .28\\110 7.7 .28\\115 7.7 .28\\120 7.7 .28\\125 7.7 .28\\130 7.7 .28\\135 7.7 .28\\140 7.7 .28\\145 7.7 .28\\150 7.7 .28\\155 7.7 .28\\160 7.7 .28\\165 7.7 .28\\170 7.7 .28\\175 7.7 .28\\180 7.7 .28\\185 7.7 .28\\190 7.7 .28\\195 7.7 .28\\200 7.7 .28\\205 7.7 .28\\210 7.7 .28\\215 7.7 .28\\220 7.7 .28\\225 7.7 .28\\230 7.7 .28\\235 7.7 .28\\240 7.7 .28\\245 7.7 .28\\250 7.7 .28\\255 7.7 .28\\260 7.7 .28\\265 7.7 .28\\270 7.7 .28\\275 7.7 .28\\280 7.7 .28\\285 7.7 .28\\290 7.7 .28\\295 7.7 .28\\300 7.7 .28\\305 7.7 .28\\310 7.7 .28\\315 7.7 .28\\320 7.7 .28\\325 7.7 .28\\330 7.7 .28\\335 7.7 .28\\340 7.7 .28\\345 7.7 .28\\350 7.7 .28\\355 7.7 .28\\360 7.7 .28\\
};
\end{axis}
\path ([shift={(-33.5pt,-23.6pt)}]ax.south west) rectangle ++(453.5pt,358.2pt);
\end{tikzpicture}
\end{document}
